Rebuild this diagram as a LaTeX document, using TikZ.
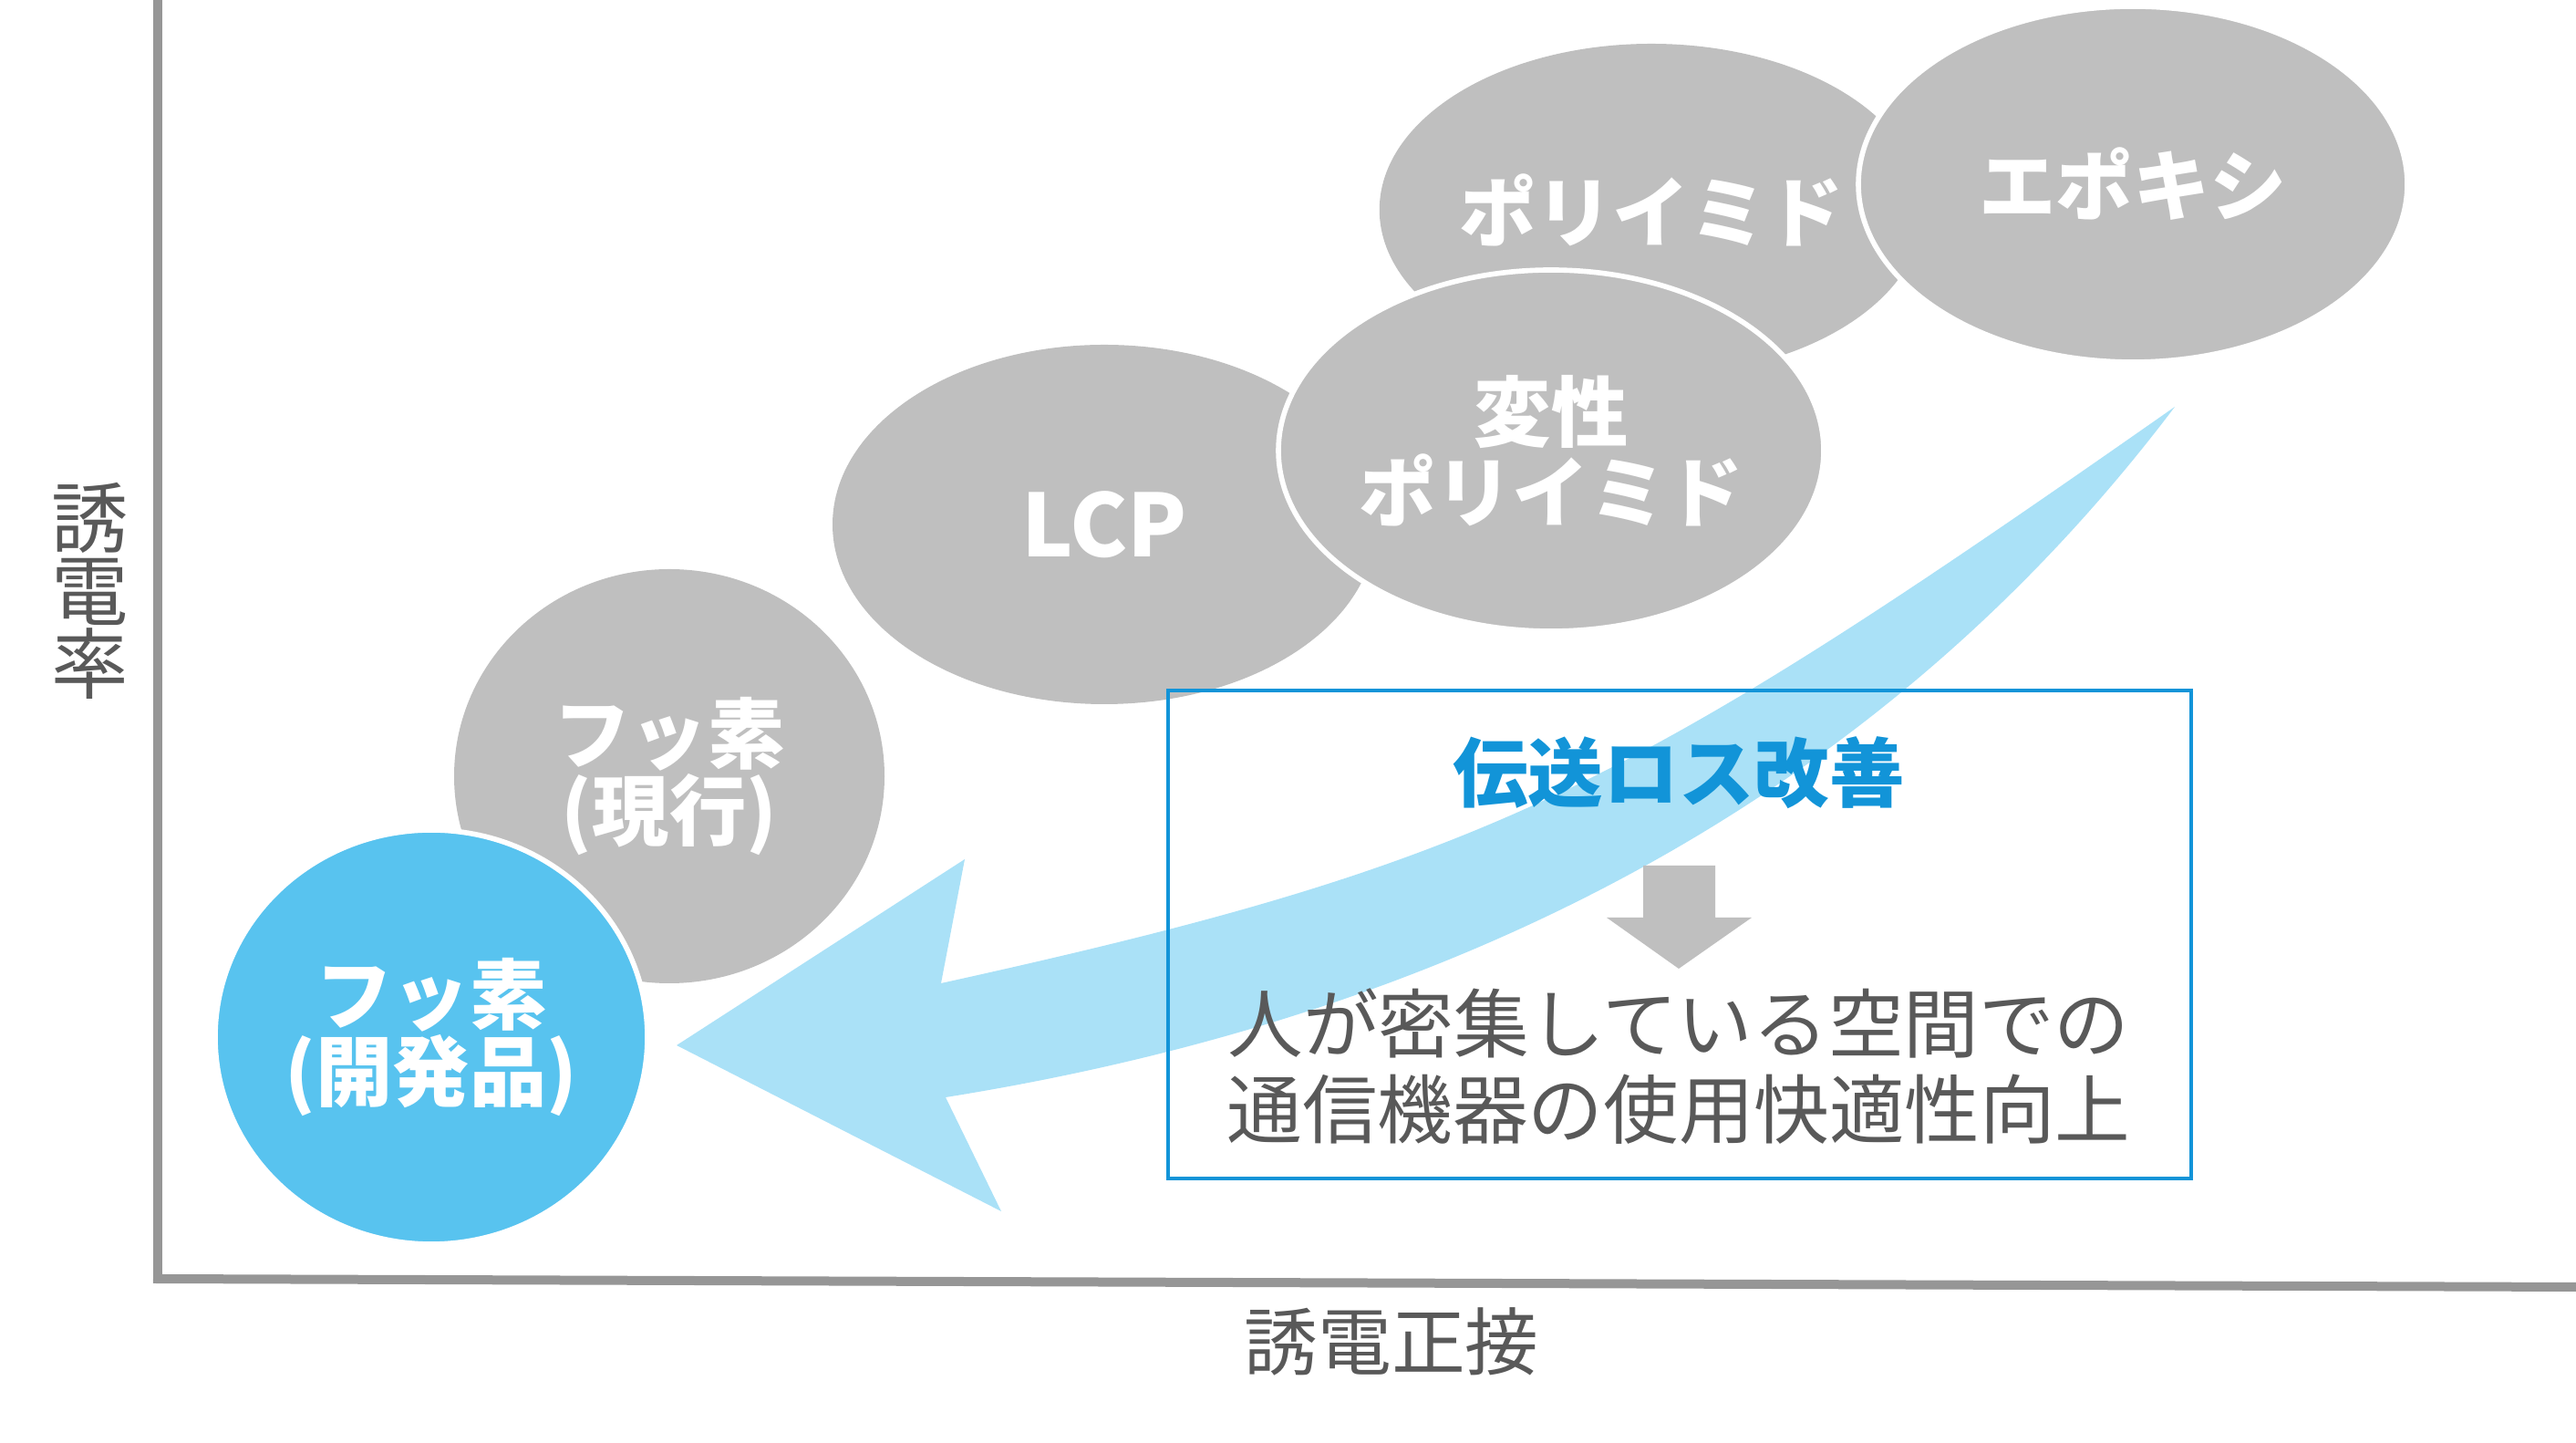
\documentclass[tikz,border=0pt]{standalone}
\usepackage{fontspec}
\usepackage{tikz}
\usetikzlibrary{shapes.geometric}
\newfontfamily\jpfont{Noto Sans CJK JP}
\definecolor{ellgray}{RGB}{191,191,191}
\definecolor{devblue}{RGB}{88,195,239}
\definecolor{flowblue}{RGB}{170,225,247}
\definecolor{boxblue}{RGB}{18,148,216}
\definecolor{textgray}{RGB}{89,89,89}
\definecolor{axisgray}{RGB}{150,150,150}
\tikzset{
  blob/.style={ellipse, fill=ellgray, text=white, inner sep=0pt, align=center,
    font=\jpfont\bfseries\fontsize{24}{25}\selectfont},
  rim/.style={draw=white, line width=1.6pt},
  axislabel/.style={text=textgray, align=center},
}

\begin{document}
\begin{tikzpicture}
    \useasboundingbox (0,0) rectangle (28.25,15.82);
    % axes
    \draw[axisgray, line width=0.1cm] (1.73,15.82) -- (1.73,1.80);
    \draw[axisgray, line width=0.1cm] (1.68,1.80) -- (28.25,1.71);
    \node[axislabel, font=\jpfont\fontsize{24}{22.8}\selectfont] (ylab) at (0.99,9.34) {誘\\電\\率};
    \node[axislabel, font=\jpfont\fontsize{23}{26}\selectfont] (xlab) at (15.26,1.11) {誘電正接};
    % materials
    \node[blob, minimum width=5.88cm, minimum height=3.64cm] (poly) at (18.11,13.52) {ポリイミド};
    \node[blob, rim, minimum width=6.02cm, minimum height=3.90cm] (epoxy) at (23.39,13.80) {エポキシ};
    \node[blob, minimum width=5.96cm, minimum height=3.94cm,
      font=\jpfont\bfseries\fontsize{27}{30}\selectfont] (lcp) at (12.11,10.07) {LCP};
    \node[blob, rim, minimum width=5.98cm, minimum height=3.96cm] (modpi) at (17.01,10.88) {変性\\ポリイミド};
    \node[blob, minimum width=4.72cm, minimum height=4.54cm,
      font=\jpfont\bfseries\fontsize{24}{21.8}\selectfont] (fcur) at (7.34,7.31) {フッ素\\(現行)};
    \node[blob, rim, fill=devblue, minimum width=4.74cm, minimum height=4.54cm,
      font=\jpfont\bfseries\fontsize{24}{21.8}\selectfont] (fdev) at (4.73,4.45) {フッ素\\(開発品)};
    % sweep towards the new grade
    \coordinate (tail) at (23.85,11.36);
    \coordinate (tip) at (7.42,4.36);
    \fill[flowblue] (tail) .. controls (17.85,7.16) and (16.36,6.37) .. (10.32,5.04)
      -- (10.58,6.40) -- (tip) -- (10.98,2.54) -- (10.37,3.79)
      .. controls (17.37,4.91) and (21.40,8.12) .. (tail) -- cycle;
    % effect box
    \node[draw=boxblue, line width=1.2pt, minimum width=11.22cm, minimum height=5.35cm] (box) at (18.42,5.575) {};
    \node[text=boxblue, font=\jpfont\bfseries\fontsize{23.5}{28}\selectfont] (title) at (18.41,7.35) {伝送ロス改善};
    \fill[ellgray] (18.02,6.33) -- (18.81,6.33) -- (18.81,5.76) -- (19.21,5.76) -- (18.41,5.20) -- (17.62,5.76) -- (18.02,5.76) -- cycle;
    \node[text=textgray, align=center, font=\jpfont\fontsize{23.5}{26.7}\selectfont] (effect) at (18.41,4.13)
      {人が密集している空間での\\通信機器の使用快適性向上};
\end{tikzpicture}
\end{document}
